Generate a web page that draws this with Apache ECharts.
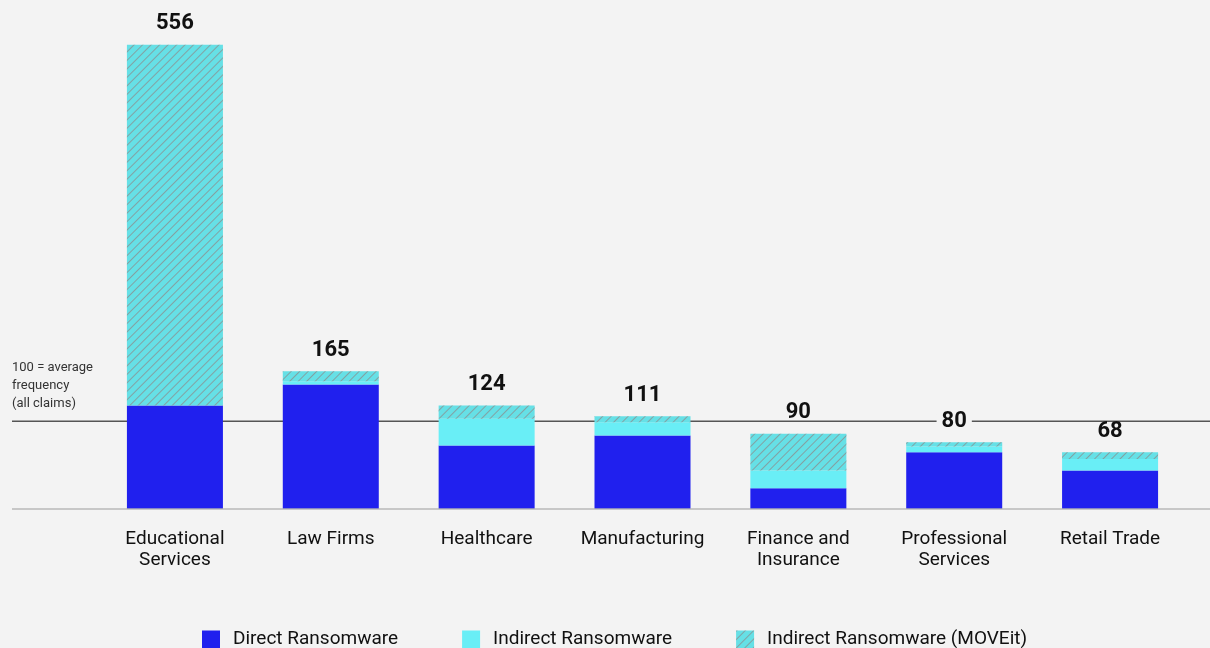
<!DOCTYPE html>
<html>
<head>
<meta charset="utf-8">
<script src="https://cdn.jsdelivr.net/npm/echarts@6/dist/echarts.min.js"></script>
<style>
  html, body { margin: 0; padding: 0; background: #f3f3f3; }
  #chart { width: 1210px; height: 648px; }
</style>
</head>
<body>
<div id="chart"></div>
<script>
const categories = ['Educational\nServices', 'Law Firms', 'Healthcare', 'Manufacturing', 'Finance and\nInsurance', 'Professional\nServices', 'Retail Trade']
const direct = [124, 149, 76, 88, 25, 68, 46]
const indirect = [0, 4, 32, 16, 21, 7, 14]
const moveit = [432, 12, 16, 7, 44, 5, 8]
const totals = [556, 165, 124, 111, 90, 80, 68]
// the "100 = average" rule sits a little above 100 on the picture's own scale
const averageLine = 105

const FONT = 'Roboto'
const BLUE = '#2020ee'
const CYAN = '#69eef6'
const CYAN_DARK = '#66e0e6'

const chart = echarts.init(document.getElementById('chart'))

const hatch = {
  symbol: 'rect',
  symbolSize: 1,
  dashArrayX: [1, 0],
  dashArrayY: [1, 5],
  rotation: -Math.PI / 4,
  color: 'rgba(140, 140, 140, 0.75)'
}

chart.setOption({
  backgroundColor: '#f3f3f3',
  animation: false,
  textStyle: { fontFamily: FONT },
  grid: { left: 97, right: 22, top: 8, bottom: 139 },
  legend: {
    left: 197,
    top: 625,
    icon: 'rect',
    itemWidth: 18,
    itemHeight: 18,
    itemGap: 64,
    textStyle: { fontSize: 19, color: '#111', fontFamily: FONT, padding: [0, 0, 0, 8] },
    data: ['Direct Ransomware', 'Indirect Ransomware', 'Indirect Ransomware (MOVEit)']
  },
  xAxis: {
    type: 'category',
    data: categories,
    axisLine: { show: false },
    axisTick: { show: false },
    axisLabel: {
      interval: 0,
      margin: 20,
      fontSize: 19,
      lineHeight: 21,
      color: '#111',
      fontFamily: FONT
    }
  },
  yAxis: {
    type: 'value',
    min: 0,
    max: 600,
    show: false,
    splitLine: { show: false }
  },
  series: [
    {
      name: 'Direct Ransomware',
      type: 'bar',
      stack: 'total',
      barWidth: 96,
      itemStyle: { color: BLUE },
      data: direct
    },
    {
      name: 'Indirect Ransomware',
      type: 'bar',
      stack: 'total',
      barWidth: 96,
      itemStyle: { color: CYAN },
      data: indirect
    },
    {
      name: 'Indirect Ransomware (MOVEit)',
      type: 'bar',
      stack: 'total',
      barWidth: 96,
      itemStyle: { color: CYAN_DARK, decal: hatch },
      label: {
        show: true,
        position: 'top',
        distance: 14,
        fontSize: 22,
        lineHeight: 14,
        fontWeight: 'bold',
        color: '#111',
        fontFamily: FONT,
        backgroundColor: '#f3f3f3',
        padding: [0, 5],
        formatter: (p) => String(totals[p.dataIndex])
      },
      data: moveit
    }
  ]
})

// full-width baseline and average rule, placed through the y axis scale
const y0 = chart.convertToPixel({ yAxisIndex: 0 }, 0)
const yAvg = chart.convertToPixel({ yAxisIndex: 0 }, averageLine)

chart.setOption({
  graphic: [
    {
      type: 'line',
      z: 0,
      shape: { x1: 12, y1: yAvg, x2: 1210, y2: yAvg },
      style: { stroke: '#555', lineWidth: 1.5 }
    },
    {
      type: 'line',
      z: 10,
      shape: { x1: 12, y1: y0, x2: 1210, y2: y0 },
      style: { stroke: 'rgba(180, 180, 180, 0.7)', lineWidth: 2 }
    },
    {
      type: 'text',
      z: 5,
      left: 12,
      top: yAvg - 63,
      style: {
        text: '100 = average\nfrequency\n(all claims)',
        font: '13px Roboto',
        lineHeight: 18,
        fill: '#333'
      }
    }
  ]
})
</script>
</body>
</html>
